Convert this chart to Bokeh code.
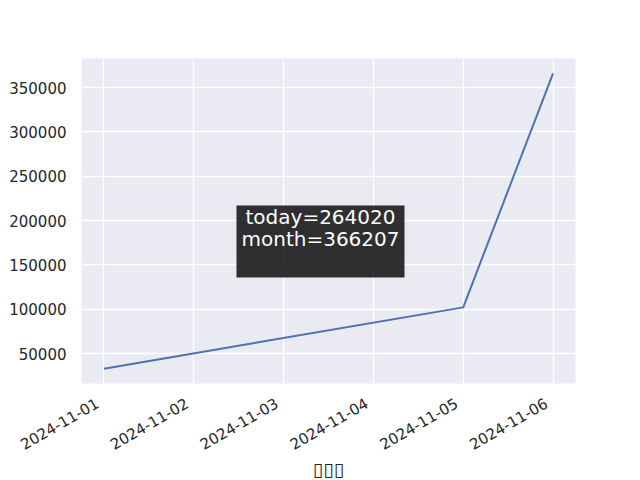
import datetime as dt
from bokeh.plotting import figure
from bokeh.models import (Range1d, FixedTicker, DatetimeTickFormatter, BasicTickFormatter,
                          DatetimeAxis, Label, BoxAnnotation, ColumnDataSource)
from bokeh.embed import file_html
from bokeh.resources import INLINE
import math

# ---- data ----
dates = [dt.datetime(2024, 11, 1), dt.datetime(2024, 11, 5), dt.datetime(2024, 11, 6)]
totals = [33000, 102187, 366207]
tick_dates = [dt.datetime(2024, 11, d) for d in range(1, 7)]
y_ticks = [50000, 100000, 150000, 200000, 250000, 300000, 350000]
x_label = "\u25af\u25af\u25af"
note_lines = ["today=264020", "month=366207"]

FONT = "DejaVu Sans"
TXT = "#262626"
FW, FH = 494, 325

def ms(d):
    return (d - dt.datetime(1970, 1, 1)).total_seconds() * 1000.0

x0, x1 = ms(dates[0]), ms(dates[-1])
xm = (x1 - x0) * 0.05
ymin, ymax = min(totals), max(totals)
ym = (ymax - ymin) * 0.05

p = figure(x_axis_type="datetime", frame_width=FW, frame_height=FH,
           min_border_left=81, min_border_right=65, min_border_top=58, min_border_bottom=97,
           output_backend="svg", toolbar_location=None,
           x_range=Range1d(x0 - xm, x1 + xm), y_range=Range1d(ymin - ym, ymax + ym))

p.background_fill_color = "#EAEAF2"
p.border_fill_color = "white"
p.outline_line_color = None

for g in (p.xgrid, p.ygrid):
    g.grid_line_color = "white"
    g.grid_line_width = 1.3

xticker = FixedTicker(ticks=[ms(d) for d in tick_dates])
p.xgrid.ticker = xticker
p.xaxis.visible = False

# label axis on a range shifted a few pixels, so rotated labels end just left of each tick
px = (x1 - x0 + 2 * xm) / FW
shift = 7 * px
p.extra_x_ranges = {"lab": Range1d(x0 - xm + shift, x1 + xm + shift)}
xa = DatetimeAxis(x_range_name="lab", ticker=xticker,
                  formatter=DatetimeTickFormatter(days="%Y-%m-%d", months="%Y-%m-%d",
                                                  hours="%Y-%m-%d"))
p.add_layout(xa, "below")

p.yaxis.ticker = FixedTicker(ticks=y_ticks)
p.ygrid.ticker = p.yaxis.ticker
p.yaxis.formatter = BasicTickFormatter(use_scientific=False)

for ax in (xa, p.yaxis[0]):
    ax.axis_line_color = None
    ax.major_tick_line_color = None
    ax.minor_tick_line_color = None
    ax.major_tick_out = 0
    ax.major_tick_in = 0
    ax.major_label_text_font = FONT
    ax.major_label_text_font_size = "15px"
    ax.major_label_text_color = TXT

p.yaxis.major_label_standoff = 15
xa.major_label_orientation = math.pi / 6
xa.major_label_standoff = 18
xa.axis_label = x_label
xa.axis_label_text_font = FONT
xa.axis_label_text_font_size = "19px"
xa.axis_label_text_font_style = "normal"
xa.axis_label_text_color = TXT
xa.axis_label_standoff = 0

src = ColumnDataSource(dict(x=dates, y=totals))
p.line("x", "y", source=src, line_color="#4C72B0", line_width=2)

p.add_layout(BoxAnnotation(left=155, right=323, bottom=106, top=178,
                           left_units="screen", right_units="screen",
                           top_units="screen", bottom_units="screen",
                           fill_color="black", fill_alpha=0.8, line_color=None))
for i, t in enumerate(note_lines):
    p.add_layout(Label(x=239, y=167 - 22 * i, x_units="screen", y_units="screen",
                       text=t, text_align="center", text_baseline="alphabetic",
                       text_font=FONT, text_font_size="20px", text_color="white"))

open("out.html", "w").write(file_html(p, INLINE))
